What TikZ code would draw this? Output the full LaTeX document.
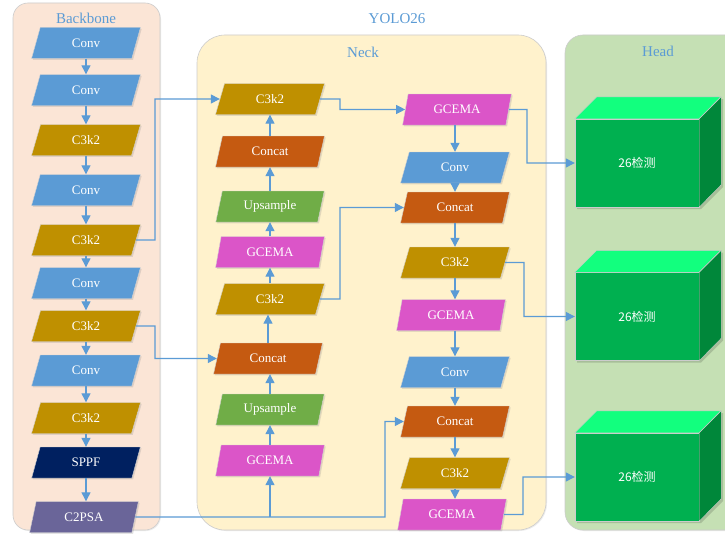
\documentclass[tikz,border=0pt]{standalone}
\usepackage{fontspec}
\setmainfont{Liberation Serif}
\newfontfamily\cjk{Noto Sans CJK SC}
\usetikzlibrary{shapes.geometric,arrows.meta,shadows}
\definecolor{convc}{HTML}{5B9BD5}
\definecolor{c3c}{HTML}{BF9000}
\definecolor{sppfc}{HTML}{002060}
\definecolor{c2psac}{HTML}{6A6599}
\definecolor{concatc}{HTML}{C55A11}
\definecolor{upc}{HTML}{70AD47}
\definecolor{gcemac}{HTML}{DB55C8}
\definecolor{linec}{HTML}{5B9BD5}
\definecolor{titlec}{HTML}{5B9BD5}
\definecolor{bbfill}{HTML}{FBE5D6}
\definecolor{nkfill}{HTML}{FFF2CC}
\definecolor{hdfill}{HTML}{C5E0B4}
\definecolor{cubefront}{HTML}{00B050}
\definecolor{cubetop}{HTML}{12FF7E}
\definecolor{cubeside}{HTML}{00873A}
\tikzset{
  blk/.style={trapezium, trapezium left angle=73, trapezium right angle=107,
    trapezium stretches=true, minimum width=109pt, minimum height=31pt,
    draw=gray!35, line width=0.4pt, text=white, inner sep=0pt,
    font=\rmfamily\fontsize{13}{15}\selectfont,
    drop shadow={opacity=0.22, shadow xshift=1.3pt, shadow yshift=-1.3pt}},
  convb/.style={blk, fill=convc},
  c3b/.style={blk, fill=c3c},
  sppfb/.style={blk, fill=sppfc},
  c2psab/.style={blk, fill=c2psac},
  concatb/.style={blk, fill=concatc},
  upb/.style={blk, fill=upc},
  gcemab/.style={blk, fill=gcemac},
  panel/.style={draw=gray!40, line width=0.6pt,
    drop shadow={opacity=0.15, shadow xshift=1pt, shadow yshift=-1pt}},
  ptitle/.style={text=titlec, font=\rmfamily\fontsize{15}{17}\selectfont, inner sep=0pt},
  arr/.style={draw=linec, line width=1.2pt, -{Triangle[length=9pt,width=9pt]}},
  cubefr/.style={rectangle, fill=cubefront, draw=gray!40, line width=0.4pt,
    minimum width=124pt, minimum height=88pt, inner sep=0pt, text=white,
    font=\cjk\fontsize{12}{14}\selectfont},
  cubeface/.style={draw=gray!40, line width=0.4pt},
}
\begin{document}
\begin{tikzpicture}[x=1pt,y=-1pt]
\clip (0,0) rectangle (725,535);
\fill[white] (0,0) rectangle (725,535);
% panels
\draw[panel, fill=bbfill, rounded corners=15pt] (13,3) rectangle (160,530);
\draw[panel, fill=nkfill, rounded corners=28pt] (197,35) rectangle (546,530);
\draw[panel, fill=hdfill, rounded corners=18pt] (565,35) rectangle (745,530);
\node[ptitle] (tbb) at (86,18) {Backbone};
\node[ptitle] (tyolo) at (397,19) {YOLO26};
\node[ptitle] (tneck) at (363,52) {Neck};
\node[ptitle] (thead) at (658,51) {Head};
% backbone
\node[convb] (b1) at (86,43) {Conv};
\node[convb] (b2) at (86,90) {Conv};
\node[c3b] (b3) at (86,140) {C3k2};
\node[convb] (b4) at (86,190) {Conv};
\node[c3b] (b5) at (86,240) {C3k2};
\node[convb] (b6) at (86,283) {Conv};
\node[c3b] (b7) at (86,326) {C3k2};
\node[convb] (b8) at (86,370.5) {Conv};
\node[c3b] (b9) at (86,418) {C3k2};
\node[sppfb] (b10) at (86,462.5) {SPPF};
\node[c2psab] (b11) at (84,517) {C2PSA};
% neck left column
\node[c3b] (l1) at (270,99) {C3k2};
\node[concatb] (l2) at (270,151.5) {Concat};
\node[upb] (l3) at (270,206.5) {Upsample};
\node[gcemab] (l4) at (270,252) {GCEMA};
\node[c3b] (l5) at (270,299) {C3k2};
\node[concatb] (l6) at (268,358.5) {Concat};
\node[upb] (l7) at (270,409.5) {Upsample};
\node[gcemab] (l8) at (270,460.5) {GCEMA};
% neck right column
\node[gcemab] (r1) at (457,109.5) {GCEMA};
\node[convb] (r2) at (455,167.5) {Conv};
\node[concatb] (r3) at (455,207.5) {Concat};
\node[c3b] (r4) at (455,262.5) {C3k2};
\node[gcemab] (r5) at (451,315) {GCEMA};
\node[convb] (r6) at (455,372) {Conv};
\node[concatb] (r7) at (455,421.5) {Concat};
\node[c3b] (r8) at (455,473) {C3k2};
\node[gcemab] (r9) at (452,514.5) {GCEMA};
% head cubes
\foreach \n/\y in {h1/163, h2/316.5, h3/477}{
  \fill[black, opacity=0.15] (575+2,\y-44+2) -- (575+2,\y+44+2) -- (699+2,\y+44+2) -- (721+2,\y+22+2) -- (721+2,\y-66+2) -- cycle;
  \node[cubefr] (\n) at (637,\y) {26检测};
  \draw[cubeface, fill=cubetop] (\n.north west) -- ++(22,-22) -- ++(124,0) -- (\n.north east) -- cycle;
  \draw[cubeface, fill=cubeside] (\n.north east) -- ++(22,-22) -- ++(0,88) -- (\n.south east) -- cycle;
}
% backbone arrows
\foreach \a/\b in {b1/b2,b2/b3,b3/b4,b4/b5,b5/b6,b6/b7,b7/b8,b8/b9,b9/b10,b10/b11}{
  \draw[arr] (\a.south) -- (\a.south |- \b.north);
}
% neck left column arrows (upward)
\foreach \a/\b in {l8/l7,l7/l6,l6/l5,l5/l4,l4/l3,l3/l2,l2/l1}{
  \draw[arr] (\a.north) -- (\a.north |- \b.south);
}
% neck right column arrows (downward)
\foreach \a/\b in {r1/r2,r2/r3,r3/r4,r4/r5,r5/r6,r6/r7,r7/r8,r8/r9}{
  \draw[arr] (455,0 |- \a.south) -- (455,0 |- \b.north);
}
% cross connections
\draw[arr] (b5.east) -- (155,240) |- (l1.west);
\draw[arr] (b7.east) -- (155,326) |- (l6.west);
\draw[arr] (b11.east) -- (385,517) |- (r7.west);
\draw[arr] (b11.east -| l8.south) -- (l8.south);
\draw[arr] (l1.east) -- (340,99) |- (r1.west);
\draw[arr] (l5.east) -- (340,299) |- (r3.west);
\draw[arr] (r1.east) -- (527,109.5) |- (h1.west);
\draw[arr] (r4.east) -- (524,262.5) |- (h2.west);
\draw[arr] (r9.east) -- (523,514.5) |- (h3.west);
\end{tikzpicture}
\end{document}
